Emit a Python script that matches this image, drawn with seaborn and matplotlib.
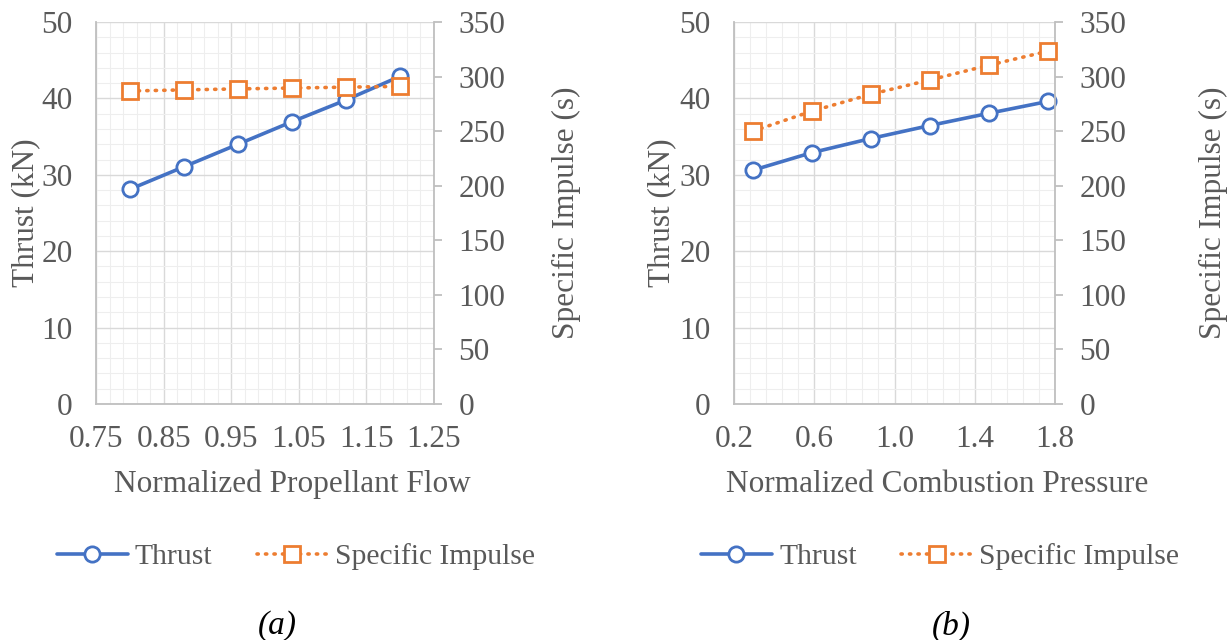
import numpy as np
import pandas as pd
import matplotlib
matplotlib.use("Agg")
import matplotlib.pyplot as plt
from matplotlib.ticker import MultipleLocator, FixedLocator
import seaborn as sns

# ---- data ----
flow_x = [0.80, 0.88, 0.96, 1.04, 1.12, 1.20]
flow_thrust = [28.1, 31.05, 34.0, 36.95, 39.8, 42.9]
flow_isp = [286.8, 287.8, 288.7, 289.5, 290.3, 291.0]

press_x = [0.294, 0.588, 0.882, 1.176, 1.470, 1.764]
press_thrust = [30.6, 32.9, 34.75, 36.45, 38.05, 39.6]
press_isp = [250.0, 268.3, 283.8, 296.9, 310.4, 323.2]

xlabels = ["Normalized Propellant Flow", "Normalized Combustion Pressure"]
left_label = "Thrust (kN)"
right_label = "Specific Impulse (s)"
series_names = ["Thrust", "Specific Impulse"]
captions = ["(a)", "(b)"]

BLUE = "#4472C4"
ORANGE = "#ED7D31"
TXT = "#595959"
FS = 22.5
FS_LEG = 21.3
FS_CAP = 24

sns.set_theme(style="white")
plt.rcParams["font.family"] = ["Liberation Serif", "DejaVu Serif"]

fig = plt.figure(figsize=(12.31, 6.40), dpi=100)
W, H = 1231, 640

def fx(px):
    return px / W

def fy(py):
    return 1 - py / H

panels = [
    dict(x=flow_x, t=flow_thrust, s=flow_isp, xlim=(0.75, 1.25), major=0.1, minor=0.02,
         box=(96, 434), fmt="{:.2f}", leg_c=296, cap_c=277,
         lab_l=26, lab_r=566, lab_x=292.5),
    dict(x=press_x, t=press_thrust, s=press_isp, xlim=(0.2, 1.8), major=0.4, minor=0.08,
         box=(734, 1055), fmt="{:.1f}", leg_c=940, cap_c=951,
         lab_l=662, lab_r=1213, lab_x=937),
]

for i, p in enumerate(panels):
    x0, x1 = p["box"]
    wpx = x1 - x0
    ax = fig.add_axes([fx(x0), fy(404), fx(wpx), (404 - 22) / H])
    ax.set_facecolor("none")
    df_t = pd.DataFrame({"x": p["x"], "y": p["t"]})
    df_s = pd.DataFrame({"x": p["x"], "y": p["s"]})
    sns.lineplot(data=df_t, x="x", y="y", ax=ax, color=BLUE, linewidth=2.6,
                 marker="o", markersize=11, markerfacecolor="white",
                 markeredgecolor=BLUE, markeredgewidth=2.0, legend=False, zorder=3,
                 clip_on=False)
    ax.set_xlim(*p["xlim"])
    ax.set_ylim(0, 50)
    lo, hi = p["xlim"]
    ax.xaxis.set_major_locator(FixedLocator(np.round(np.arange(lo, hi + 1e-9, p["major"]), 4)))
    ax.xaxis.set_minor_locator(FixedLocator(np.round(np.arange(lo, hi + 1e-9, p["minor"]), 4)))
    ax.yaxis.set_major_locator(MultipleLocator(10))
    ax.yaxis.set_minor_locator(MultipleLocator(2))
    ax.set_xticklabels([p["fmt"].format(v) for v in ax.get_xticks()])
    ax.set_axisbelow(True)
    ax.grid(which="major", color="#d9d9d9", linewidth=1.0)
    ax.grid(which="minor", color="#eeeeee", linewidth=0.8)
    ax.tick_params(axis="both", which="both", length=0, labelsize=FS, labelcolor=TXT)
    ax.tick_params(axis="y", pad=17)
    ax.tick_params(axis="x", pad=15)
    for sp in ["top", "right"]:
        ax.spines[sp].set_visible(False)
    for sp in ["left", "bottom"]:
        ax.spines[sp].set_color("#bfbfbf")
        ax.spines[sp].set_linewidth(1.3)
    ax.set_xlabel(xlabels[i], fontsize=FS, color=TXT)
    ax.xaxis.set_label_coords((p["lab_x"] - x0) / wpx, (404 - 484) / 382)
    ax.xaxis.label.set_va("center")
    ax.set_ylabel(left_label, fontsize=FS, color=TXT)
    ax.yaxis.set_label_coords((p["lab_l"] - x0) / wpx, 0.5)
    ax.yaxis.label.set_va("center")

    ax2 = ax.twinx()
    sns.lineplot(data=df_s, x="x", y="y", ax=ax2, color=ORANGE, linewidth=2.6,
                 marker="s", markersize=11, markerfacecolor="white",
                 markeredgecolor=ORANGE, markeredgewidth=2.0, legend=False, zorder=3,
                 clip_on=False)
    ax2.set_ylim(0, 350)
    ax2.set_xlim(*p["xlim"])
    ax2.yaxis.set_major_locator(MultipleLocator(50))
    for ln in ax2.lines:
        ln.set_linestyle((0, (0.35, 2.0)))
        ln.set_dash_capstyle("round")
    ax2.grid(False)
    for sp in ["top", "left", "bottom"]:
        ax2.spines[sp].set_visible(False)
    ax2.spines["right"].set_color("#bfbfbf")
    ax2.spines["right"].set_linewidth(1.3)
    ax2.tick_params(axis="y", which="major", length=5.5, width=1.3, color="#bfbfbf",
                    labelsize=FS, labelcolor=TXT, pad=12, direction="out")
    ax2.tick_params(axis="y", which="minor", length=0)
    ax2.set_ylabel(right_label, fontsize=FS, color=TXT)
    ax2.yaxis.set_label_coords((p["lab_r"] - x0) / wpx, 0.5)
    ax2.yaxis.label.set_va("center")

    handles = [ax.lines[0], ax2.lines[0]]
    fig.legend(handles, series_names, loc="center", bbox_to_anchor=(fx(p["leg_c"]), fy(557)),
               ncol=2, frameon=False, fontsize=FS_LEG, labelcolor=TXT, handlelength=2.4,
               handletextpad=0.25, columnspacing=1.5)
    fig.text(fx(p["cap_c"]), fy(626), captions[i], fontsize=FS_CAP, style="italic",
             color="black", ha="center", va="center")

fig.savefig("out.png", dpi=100, facecolor="white")
